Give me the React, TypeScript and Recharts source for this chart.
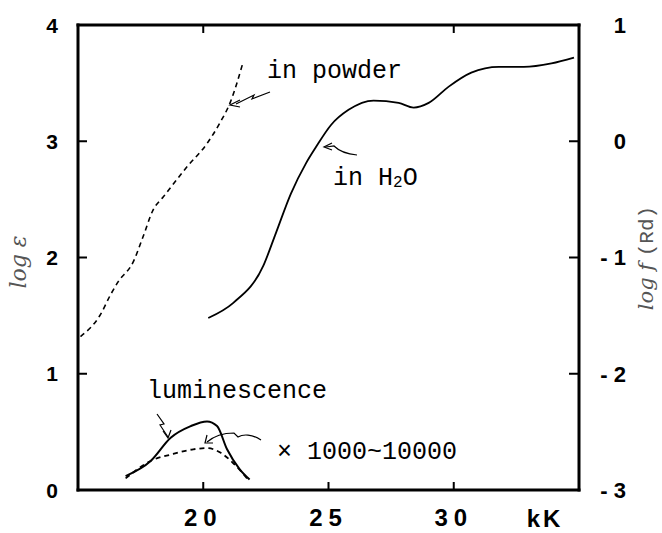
import React from 'react';
import { ComposedChart, Line, XAxis, YAxis } from 'recharts';

// absorption, powder (dashed)
const powderX = [15.1, 15.9, 16.3, 16.6, 17.2, 17.6, 18.0, 18.4, 19.35, 20.15, 20.67, 21.07, 21.59];
const powderY = [1.32, 1.51, 1.68, 1.79, 1.96, 2.18, 2.41, 2.52, 2.78, 2.98, 3.16, 3.33, 3.68];

// absorption, in H2O (solid)
const waterX = [20.2, 21.2, 22.4, 22.9, 23.5, 24.1, 24.5, 25.1, 25.8, 26.8, 27.8, 28.4, 29.0, 29.8, 30.7, 31.8, 32.8, 33.9, 34.8];
const waterY = [1.48, 1.61, 1.93, 2.21, 2.55, 2.81, 2.95, 3.14, 3.27, 3.35, 3.33, 3.29, 3.33, 3.47, 3.59, 3.64, 3.64, 3.67, 3.72];

// luminescence (solid + dashed)
const lumSolidX = [16.9, 17.9, 18.7, 19.5, 20.15, 20.55, 20.95, 21.45, 21.85];
const lumSolidY = [0.12, 0.25, 0.45, 0.55, 0.59, 0.55, 0.35, 0.18, 0.09];
const lumDashX = [16.9, 17.9, 18.8, 19.6, 20.15, 20.7, 21.2, 21.75];
const lumDashY = [0.1, 0.25, 0.31, 0.35, 0.36, 0.32, 0.23, 0.1];

const xTicks = [20, 25, 30];
const topTicks = [20, 30];
const leftTicks = [0, 1, 2, 3, 4];
const rightTicks = [-3, -2, -1, 0, 1];

const X_MIN = 15;
const X_MAX = 35;
const Y_MIN = 0;
const Y_MAX = 4;

// chart box
const W = 662;
const H = 533;
const M_TOP = 25;
const LEFT_W = 78;
const RIGHT_W = 83;
const BOTTOM_H = 43;
const PLOT = { x: LEFT_W, y: M_TOP, w: W - LEFT_W - RIGHT_W, h: H - M_TOP - BOTTOM_H };
const sx = (v: number) => PLOT.x + ((v - X_MIN) / (X_MAX - X_MIN)) * PLOT.w;
const sy = (v: number) => PLOT.y + PLOT.h - ((v - Y_MIN) / (Y_MAX - Y_MIN)) * PLOT.h;

const toPoints = (xs: number[], ys: number[]) => xs.map((x, i) => ({ x, y: ys[i] }));

const NUM_FONT = "'Liberation Sans', Arial, sans-serif";
const MONO = "'Liberation Mono', 'Courier New', monospace";

const LeftTick = ({ x, y, payload }: any) => (
  <text x={x} y={y} dy="0.36em" textAnchor="end" fontFamily={NUM_FONT} fontWeight="bold" fontSize={21} fill="#000">
    {payload.value}
  </text>
);

const RightTick = ({ x, y, payload }: any) => {
  const v = payload.value;
  const label = v < 0 ? `- ${Math.abs(v)}` : `${v}`;
  return (
    <text x={x} y={y} dy="0.36em" textAnchor="end" fontFamily={NUM_FONT} fontWeight="bold" fontSize={22} fill="#000">
      {label}
    </text>
  );
};

const BottomTick = ({ x, y, payload }: any) => (
  <text x={x} y={y} dy="0.71em" textAnchor="middle" fontFamily={NUM_FONT} fontWeight="bold" fontSize={24} letterSpacing={6} fill="#000">
    {payload.value}
  </text>
);

// plot frame and inward ticks as filled bars, laid over the chart
const Frame = () => {
  const t = 3;
  const k = 2;
  return (
    <svg width={W} height={H} style={{ position: 'absolute', left: 0, top: 0, pointerEvents: 'none' }}>
      <g fill="#000" stroke="none">
        <rect x={PLOT.x - t / 2} y={PLOT.y - t / 2} width={t} height={PLOT.h + t} />
        <rect x={PLOT.x - t / 2} y={PLOT.y - t / 2} width={PLOT.w + t} height={t} />
        <rect x={PLOT.x + PLOT.w - t / 2} y={PLOT.y - t / 2} width={t} height={PLOT.h + t} />
        <rect x={PLOT.x - t / 2} y={PLOT.y + PLOT.h - t / 2} width={PLOT.w + t} height={t} />
        {leftTicks.slice(1, -1).map((v) => (
          <rect key={`l${v}`} x={PLOT.x} y={sy(v) - k / 2} width={9} height={k} />
        ))}
        {leftTicks.slice(1, -1).map((v) => (
          <rect key={`r${v}`} x={PLOT.x + PLOT.w - 10} y={sy(v) - k / 2} width={10} height={k} />
        ))}
        {xTicks.map((v) => (
          <rect key={`b${v}`} x={sx(v) - k / 2} y={PLOT.y + PLOT.h - 8} width={k} height={8} />
        ))}
        {topTicks.map((v) => (
          <rect key={`t${v}`} x={sx(v) - k / 2} y={PLOT.y} width={k} height={8} />
        ))}
      </g>
    </svg>
  );
};

export default function App() {
  return (
    <div style={{ position: 'absolute', left: 0, top: 0, width: W, height: H, background: '#fff' }}>
      <ComposedChart width={W} height={H} margin={{ top: M_TOP, right: 0, bottom: 0, left: 0 }}>
        <XAxis
          xAxisId={0}
          dataKey="x"
          type="number"
          domain={[X_MIN, X_MAX]}
          ticks={xTicks}
          height={BOTTOM_H}
          tickSize={-8}
          tickMargin={27}
          tick={<BottomTick />}
          axisLine={false}
          tickLine={false}
        />
        <YAxis
          yAxisId={0}
          type="number"
          domain={[Y_MIN, Y_MAX]}
          ticks={leftTicks}
          width={LEFT_W}
          tickSize={-9}
          tickMargin={29}
          tick={<LeftTick />}
          axisLine={false}
          tickLine={false}
        />
        <YAxis
          yAxisId={1}
          orientation="right"
          type="number"
          domain={[-3, 1]}
          ticks={rightTicks}
          width={RIGHT_W}
          tickSize={-10}
          tickMargin={57}
          tick={<RightTick />}
          axisLine={false}
          tickLine={false}
          allowDataOverflow
        />

        <Line
          xAxisId={0}
          yAxisId={0}
          data={toPoints(powderX, powderY)}
          dataKey="y"
          type="monotone"
          stroke="#000"
          strokeWidth={1.6}
          strokeDasharray="5 4"
          dot={false}
          isAnimationActive={false}
        />
        <Line
          xAxisId={0}
          yAxisId={0}
          data={toPoints(waterX, waterY)}
          dataKey="y"
          type="monotone"
          stroke="#000"
          strokeWidth={1.8}
          dot={false}
          isAnimationActive={false}
        />
        <Line
          xAxisId={0}
          yAxisId={0}
          data={toPoints(lumSolidX, lumSolidY)}
          dataKey="y"
          type="monotone"
          stroke="#000"
          strokeWidth={2}
          dot={false}
          isAnimationActive={false}
        />
        <Line
          xAxisId={0}
          yAxisId={0}
          data={toPoints(lumDashX, lumDashY)}
          dataKey="y"
          type="monotone"
          stroke="#000"
          strokeWidth={1.8}
          strokeDasharray="5 4"
          dot={false}
          isAnimationActive={false}
        />

        {/* annotations */}
        <g fill="none" stroke="#000" strokeWidth={1.2}>
          <path d="M270,92 L252,99 L254,95 L236,104" />
          <path d="M240,100 L230,105 L240,107" />
          <path d="M357,155 C346,154 339,151 334,146 L326,147" />
          <path d="M332,143 L324,147 L332,150" />
          <path d="M157,414 L164,424 L160,425 L168,437" />
          <path d="M163,431 L168,438 L171,430" />
          <path d="M261,440 C252,434 243,434 238,437 L234,433 C224,433 214,436 207,442" />
          <path d="M207,435 L205,443 L213,443" />
        </g>
        <g fontFamily={MONO} fontSize={25} fill="#000">
          <text x={267} y={78}>in powder</text>
          <text x={333} y={185}>
            in H<tspan fontSize={16} dy={2}>2</tspan><tspan dy={-2}>O</tspan>
          </text>
          <text x={147} y={398}>luminescence</text>
          <text x={277} y={459}>× 1000~10000</text>
        </g>
        <text x={545} y={527} textAnchor="middle" fontFamily={NUM_FONT} fontWeight="bold" fontSize={24} letterSpacing={3} fill="#000">
          kK
        </text>
        <text
          transform="translate(26,262) rotate(-90)"
          textAnchor="middle"
          fontFamily="'DejaVu Serif', serif"
          fontStyle="italic"
          fontSize={22}
          fill="#555"
        >
          log ε
        </text>
        <text
          transform="translate(653,258) rotate(-90)"
          textAnchor="middle"
          fontFamily="'DejaVu Serif', serif"
          fontStyle="italic"
          fontSize={21}
          fill="#555"
        >
          log f  <tspan fontStyle="normal" fontFamily={MONO}>(Rd)</tspan>
        </text>
      </ComposedChart>
      <Frame />
    </div>
  );
}
